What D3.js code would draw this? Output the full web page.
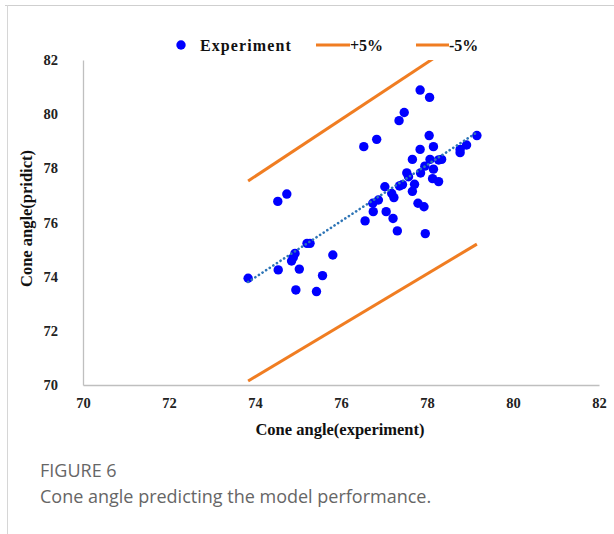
<!DOCTYPE html>
<html>
<head>
<meta charset="utf-8">
<script src="https://cdn.jsdelivr.net/npm/d3@7"></script>
<style>
  html, body { margin: 0; padding: 0; background: #fff; }
  svg { display: block; }
</style>
</head>
<body>
<svg id="chart" width="614" height="534"></svg>
<script>
// Measured cone angles (experiment) and model predictions, in degrees
const experiment = [
  73.84, 74.54, 75.03, 74.53, 74.74, 74.85, 74.89, 74.93, 75.21, 75.28,
  74.95, 75.43, 75.57, 75.81, 76.53, 76.83, 76.56, 76.75, 77.05, 77.21,
  76.74, 76.87, 77.02, 77.18, 77.23, 77.31, 77.36, 77.43, 77.35, 77.47,
  77.53, 77.57, 77.66, 77.66, 77.71, 77.79, 77.93, 77.84, 78.06, 78.05,
  77.84, 78.15, 77.85, 77.95, 78.07, 78.15, 78.27, 78.34, 78.13, 78.27,
  77.96, 78.77, 78.77, 78.92, 79.16
];
const predicted = [
  73.94, 74.25, 74.28, 76.78, 77.05, 74.58, 74.71, 74.86, 75.23, 75.23,
  73.51, 73.45, 74.04, 74.80, 78.80, 79.07, 76.06, 76.40, 76.40, 76.15,
  76.71, 76.83, 77.32, 77.07, 76.92, 75.69, 77.35, 77.40, 79.76, 80.06,
  77.83, 77.69, 78.33, 77.15, 77.41, 76.71, 76.58, 80.89, 80.62, 79.21,
  78.70, 78.80, 77.83, 78.08, 78.33, 77.97, 78.31, 78.33, 77.62, 77.51,
  75.59, 78.70, 78.58, 78.86, 79.21
];
const xTicks = [70, 72, 74, 76, 78, 80, 82];
const yTicks = [70, 72, 74, 76, 78, 80, 82];
const bandFactors = [1.05, 0.95];      // +5% and -5% bounds
const legendLabels = ["Experiment", "+5%", "-5%"];
const captionTitle = "FIGURE 6";
const captionText = "Cone angle predicting the model performance.";

const svg = d3.select("#chart");
const W = 614, H = 534;
const plot = { left: 83, right: 599, top: 60, bottom: 385 };

const serif = "'Liberation Serif', 'Times New Roman', serif";
const blue = "#0000ff";
const orange = "#f07d22";
const trendBlue = "#2e75b6";

// card frame
svg.append("line").attr("x1", 5).attr("x2", W).attr("y1", 5.5).attr("y2", 5.5)
  .attr("stroke", "#cfcfcf").attr("stroke-width", 1.2);
svg.append("line").attr("x1", 7.5).attr("x2", 7.5).attr("y1", 5).attr("y2", H)
  .attr("stroke", "#d6d6d6").attr("stroke-width", 1);

const x = d3.scaleLinear().domain([70, 82]).range([plot.left, plot.right]);
const y = d3.scaleLinear().domain([70, 82]).range([plot.bottom, plot.top]);

// axes
const xAxis = svg.append("g")
  .attr("transform", `translate(0,${plot.bottom})`)
  .call(d3.axisBottom(x).tickValues(xTicks).tickSize(0).tickPadding(13));
const yAxis = svg.append("g")
  .attr("transform", `translate(${plot.left},0)`)
  .call(d3.axisLeft(y).tickValues(yTicks).tickSize(0).tickPadding(25));
[xAxis, yAxis].forEach(g => {
  g.select(".domain").attr("stroke", "#bfbfbf").attr("stroke-width", 1.3);
  g.selectAll("text")
    .attr("font-family", serif).attr("font-weight", "bold")
    .attr("font-size", 14.5).attr("fill", "#222");
});

// axis titles
svg.append("text")
  .attr("x", (plot.left + plot.right) / 2 - 1).attr("y", 435)
  .attr("text-anchor", "middle")
  .attr("font-family", serif).attr("font-weight", "bold").attr("font-size", 16.5)
  .attr("fill", "#111")
  .text("Cone angle(experiment)");
svg.append("text")
  .attr("transform", `translate(32,${(plot.top + plot.bottom) / 2 - 4}) rotate(-90)`)
  .attr("text-anchor", "middle")
  .attr("font-family", serif).attr("font-weight", "bold").attr("font-size", 16.5)
  .attr("fill", "#111")
  .text("Cone angle(pridict)");

// clip to plot area
svg.append("defs").append("clipPath").attr("id", "plotClip")
  .append("rect").attr("x", plot.left).attr("y", plot.top)
  .attr("width", plot.right - plot.left).attr("height", plot.bottom - plot.top);

const xExtent = d3.extent(experiment);
const line = d3.line().x(d => x(d[0])).y(d => y(d[1]));

// +5% / -5% bounds
const bands = svg.append("g").attr("clip-path", "url(#plotClip)");
bandFactors.forEach(f => {
  bands.append("path")
    .attr("d", line(xExtent.map(v => [v, v * f])))
    .attr("fill", "none").attr("stroke", orange).attr("stroke-width", 3);
});

// points
const pts = d3.zip(experiment, predicted);
svg.append("g").selectAll("circle").data(pts).join("circle")
  .attr("cx", d => x(d[0])).attr("cy", d => y(d[1])).attr("r", 4.7)
  .attr("fill", blue);

// least-squares trend line
const mx = d3.mean(experiment), my = d3.mean(predicted);
const slope = d3.sum(pts, d => (d[0] - mx) * (d[1] - my)) / d3.sum(pts, d => (d[0] - mx) ** 2);
const icpt = my - slope * mx;
svg.append("path")
  .attr("d", line(xExtent.map(v => [v, icpt + slope * v])))
  .attr("fill", "none").attr("stroke", trendBlue).attr("stroke-width", 2.6)
  .attr("stroke-dasharray", "0.1 4.2").attr("stroke-linecap", "round");

// legend
const lg = svg.append("g").attr("font-family", serif).attr("font-weight", "bold")
  .attr("font-size", 16).attr("fill", "#111");
lg.append("circle").attr("cx", 181).attr("cy", 45).attr("r", 4.7).attr("fill", blue);
lg.append("text").attr("x", 200).attr("y", 51).attr("letter-spacing", 1.1).text(legendLabels[0]);
lg.append("line").attr("x1", 316).attr("x2", 350).attr("y1", 45).attr("y2", 45)
  .attr("stroke", orange).attr("stroke-width", 3);
lg.append("text").attr("x", 350).attr("y", 51).text(legendLabels[1]);
lg.append("line").attr("x1", 416).attr("x2", 449).attr("y1", 45).attr("y2", 45)
  .attr("stroke", orange).attr("stroke-width", 3);
lg.append("text").attr("x", 449).attr("y", 51).text(legendLabels[2]);

// caption
const sans = "'Open Sans', 'Noto Sans', sans-serif";
svg.append("text").attr("x", 40).attr("y", 477)
  .attr("font-family", sans).attr("font-size", 18).attr("fill", "#666")
  .text(captionTitle);
svg.append("text").attr("x", 40).attr("y", 503)
  .attr("font-family", sans).attr("font-size", 18).attr("fill", "#666")
  .text(captionText);
</script>
</body>
</html>
